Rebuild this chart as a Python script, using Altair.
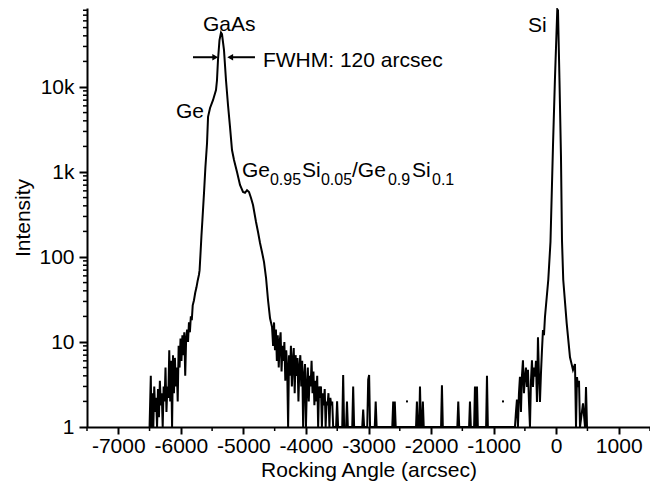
import altair as alt
import pandas as pd

# ---- curve data (rocking angle in arcsec, intensity in counts) ----
angle = [
    -6500, -6480, -6470, -6455, -6440, -6425, -6410, -6395, -6380, -6365, -6350, -6335,
    -6320, -6305, -6290, -6275, -6260, -6245, -6230, -6215, -6200, -6185, -6170, -6155,
    -6140, -6125, -6110, -6095, -6080, -6065, -6050, -6035, -6020, -6005, -5990, -5975,
    -5960, -5945, -5930, -5915, -5900, -5885, -5870, -5855, -5840, -5825, -5810, -5790,
    -5770, -5750, -5730, -5710,
    -5700, -5687, -5670, -5655, -5630, -5607, -5581, -5565, -5533, -5486, -5438, -5422,
    -5406, -5382, -5358, -5342, -5310, -5278, -5246, -5214, -5182, -5150, -5102, -5054,
    -5006, -4974, -4942, -4910, -4878, -4846, -4798, -4766, -4734, -4702, -4670, -4638,
    -4606, -4574, -4542,
    -4525, -4510, -4495, -4480, -4465, -4450, -4435, -4420, -4405, -4390, -4375, -4360,
    -4345, -4330, -4315, -4300, -4285, -4270, -4255, -4240, -4225, -4210, -4195, -4180,
    -4165, -4150, -4135, -4120, -4105, -4090, -4075, -4060, -4045, -4030, -4015, -4000,
    -3985, -3970, -3955, -3940, -3925, -3910, -3895, -3880, -3865, -3850, -3835, -3820,
    -3805, -3790, -3775, -3760, -3745, -3730, -3715, -3700, -3685, -3670, -3655, -3640,
    -3625, -3610, -3595, -3580, -3565,
    -3550, -3518, -3502, -3486, -3420, -3405, -3390, -3358, -3344, -3330, -3260, -3245,
    -3230, -3100, -3085, -3070, -3020, -3005, -2990, -2975, -2900, -2885, -2870, -2620,
    -2605, -2590, -2580, -2565, -2240, -2226, -2212, -2190, -2177, -2162, -2145, -2131,
    -2117, -1840, -1826, -1812, -1580, -1565, -1550, -1392, -1378, -1364, -1312, -1298,
    -1284, -1280, -1266, -1252, -1120, -1106, -1092, -675,
    -659, -643, -627, -611, -595, -579, -563, -547, -531, -515, -499, -483, -467, -451,
    -435, -419, -403, -387, -371, -355, -339, -323, -307, -291, -275, -259, -243, -227,
    -211, -195, -179, -126, -91, -51, -19, 18,
    29, 53, 77, 93, 113, 168, 221, 269, 301, 317, 333, 349, 365, 381, 429, 461, 477, 493,
]
intensity = [
    1, 4, 1, 2.5, 1, 3, 1.5, 2.2, 1, 2.8, 1.3, 3.5,
    1.8, 2.5, 1, 3, 2, 5, 1.5, 3, 2.2, 8, 2, 6,
    1, 7, 2.5, 6.5, 3, 5, 2, 9, 5, 11, 6, 12,
    7, 13, 4, 11, 14, 10, 17, 13, 20, 18, 27, 31,
    38, 44, 53, 62,
    70, 105, 180, 272, 560, 1145, 2190, 4450, 5660, 7000, 9220, 12000,
    20800, 35700, 43700, 42000, 27200, 12000, 6140, 3400, 1815, 1385, 1000, 703,
    582, 570, 610, 582, 494, 409, 258, 197, 146, 114, 87, 57,
    31, 19, 15,
    9, 17, 8, 14, 6, 12, 5, 10, 13, 4.5, 9, 6,
    10, 3.5, 8, 5, 1, 7, 4, 9, 3, 6, 8.5, 2.5,
    7, 4, 6.5, 2, 5, 7, 3, 6, 1, 4, 5.5, 1,
    3, 5, 2, 4, 3, 6, 2.5, 4.5, 1.8, 3.5, 2, 4,
    1, 3, 2.2, 3, 1, 2.5, 1.8, 2.8, 1, 2, 1.8, 2.5,
    1, 2.2, 1.8, 2, 1,
    1, 1, 2, 1, 1, 4.1, 1, 1, 2, 1, 1, 3,
    1, 1, 1.6, 1, 1, 3.6, 4.1, 1, 1, 2, 1, 1,
    2, 1, 2, 1, 1, 2, 1, 1, 3, 1, 1, 2,
    1, 1, 3.1, 1, 1, 2, 1, 1, 2, 1, 1, 3,
    1, 1, 3, 1, 1, 4, 1, 1,
    1, 1.5, 2.1, 1, 2.5, 3.9, 1.5, 4, 6.1, 2.5, 3.9, 5, 2.95, 4.7,
    2, 1, 3.5, 6.1, 2.95, 5, 3.9, 6, 1.97, 11.4, 4, 1.97, 4.3, 8,
    13.8, 12, 19.7, 54, 150, 2000, 12800, 82000,
    80000, 12000, 1500, 158, 54, 16.7, 6.6, 4.7, 5.5, 1, 3.87, 2.95, 3.5, 1, 1.9, 1, 2.95, 1,
]

# isolated single points
dot_angle = [-2385, -850]
dot_intensity = [2, 2]

# ---- axes ----
x_major = [-7000, -6000, -5000, -4000, -3000, -2000, -1000, 0, 1000]
x_minor = [-7500, -6500, -5500, -4500, -3500, -2500, -1500, -500, 500, 1500]
y_major = [1, 10, 100, 1000, 10000]
y_minor = [2, 3, 4, 5, 6, 7, 8, 9,
           20, 30, 40, 50, 60, 70, 80, 90,
           200, 300, 400, 500, 600, 700, 800, 900,
           2000, 3000, 4000, 5000, 6000, 7000, 8000, 9000,
           20000, 30000, 40000, 50000, 60000, 70000, 80000]

# ---- annotations ----
note_text = ["GaAs", "FWHM: 120 arcsec", "Ge", "Si",
             "Ge", "0.95", "Si", "0.05", "/Ge", "0.9", "Si", "0.1"]
note_angle = [-5646, -4687, -6078, -450,
              -5022, -4575, -4063, -3760, -3264, -2689, -2305, -1985]
note_intensity = [45600, 17200, 4320, 44400,
                  874, 703, 874, 703, 874, 703, 874, 703]
note_size = [21, 21, 21, 21, 21, 16, 21, 16, 21, 16, 21, 16]

arrow_from = [-5806, -4815]
arrow_to = [-5450, -5211]
arrow_level = [22400, 22400]
arrow_shape = ["triangle-right", "triangle-left"]
arrow_dx = [-4, 4]

FONT = "Liberation Sans"
W, H = 563, 419

curve = pd.DataFrame({"angle": angle, "intensity": intensity, "i": range(len(angle))})
dots = pd.DataFrame({"angle": dot_angle, "intensity": dot_intensity})
notes = pd.DataFrame({"angle": note_angle, "intensity": note_intensity,
                      "t": note_text, "fs": note_size})
arrows = pd.DataFrame({"angle": arrow_from, "a2": arrow_to, "intensity": arrow_level,
                       "shape": arrow_shape, "dx": arrow_dx})
xmin_df = pd.DataFrame({"angle": x_minor})
ymin_df = pd.DataFrame({"intensity": y_minor})

xscale = alt.Scale(domain=[-7500, 1500], nice=False, zero=False)
yscale = alt.Scale(type="log", domain=[1, 85000], nice=False)

xaxis = alt.Axis(values=x_major, labelExpr="datum.value + ''",
                 title="Rocking Angle (arcsec)", tickSize=7, tickWidth=2,
                 domainWidth=2, labelPadding=1, titlePadding=3, grid=False)
X = alt.X("angle:Q", scale=xscale, axis=xaxis)
Y = alt.Y("intensity:Q", scale=yscale,
          axis=alt.Axis(values=y_major,
                        labelExpr="datum.value >= 1000 ? (datum.value/1000) + 'k' : datum.value + ''",
                        title="Intensity", tickSize=8, tickWidth=2, domainWidth=2,
                        labelPadding=5, titlePadding=5, grid=False))

line = alt.Chart(curve).mark_line(color="black", strokeWidth=2, strokeJoin="miter").encode(
    x=X, y=Y, order="i:Q",
)

xminor = alt.Chart(xmin_df).mark_rule(color="black", strokeWidth=1.5).encode(
    x=X, y=alt.value(H), y2=alt.value(H + 4),
)
yminor = alt.Chart(ymin_df).mark_rule(color="black", strokeWidth=1.5).encode(
    y=Y, x=alt.value(0), x2=alt.value(-4),
)

dotlayer = alt.Chart(dots).mark_square(color="black", size=4, filled=True, opacity=1).encode(
    x=X, y=Y,
)

arrow_lines = alt.Chart(arrows).mark_rule(color="black", strokeWidth=2).encode(
    x=X, x2="a2:Q", y=Y,
)
arrow_heads = alt.Chart(arrows).mark_point(color="black", filled=True, opacity=1, size=45).encode(
    x=alt.X("a2:Q", scale=xscale, axis=xaxis),
    y=Y,
    shape=alt.Shape("shape:N", scale=None),
    xOffset=alt.XOffset("dx:Q", scale=None),
)

text = alt.Chart(notes).mark_text(align="left", baseline="alphabetic", font=FONT, color="black").encode(
    x=X, y=Y,
    text="t:N",
    size=alt.Size("fs:Q", scale=None),
)

chart = alt.layer(line, xminor, yminor, dotlayer, arrow_lines, arrow_heads, text).properties(
    width=W, height=H,
    autosize=alt.AutoSizeParams(type="none"),
    padding={"left": 79, "top": 0, "right": 0, "bottom": 56},
).configure_view(stroke=None).configure_axis(
    domainColor="black", tickColor="black", labelColor="black", titleColor="black",
    labelFont=FONT, titleFont=FONT, labelFontSize=21, titleFontSize=21,
    titleFontWeight="normal",
)

chart.save("out.html", embed_options={"renderer": "svg", "actions": False})
